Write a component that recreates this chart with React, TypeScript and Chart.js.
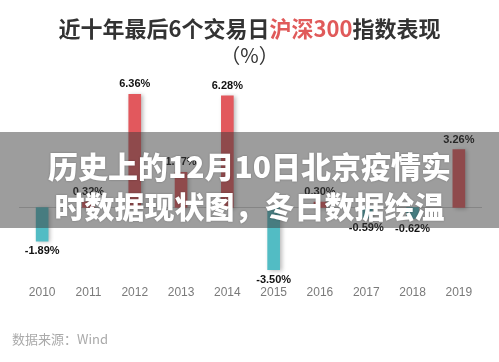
import React, { useEffect, useRef } from "react";
import { Chart, registerables } from "chart.js";

Chart.register(...registerables);

const years = ["2010", "2011", "2012", "2013", "2014", "2015", "2016", "2017", "2018", "2019"];
const returns = [-1.89, 0.32, 6.36, 1.97, 6.28, -3.5, 0.3, -0.59, -0.62, 3.26];
const RED = "#e2585d";
const TEAL = "#52bcc4";

const sans = "'Liberation Sans', Arial, 'Noto Sans CJK SC', sans-serif";
const cjk = "'Noto Sans CJK SC', 'Liberation Sans', sans-serif";

const helpers = {
  id: "helpers",
  beforeDatasetsDraw(chart: any) {
    const { ctx, chartArea, scales } = chart;
    const y0 = Math.round(scales.y.getPixelForValue(0)) + 0.5;
    ctx.save();
    ctx.strokeStyle = "#cfcfcf";
    ctx.lineWidth = 1;
    ctx.beginPath();
    ctx.moveTo(chartArea.left, y0);
    ctx.lineTo(chartArea.right, y0);
    ctx.stroke();
    ctx.restore();
    ctx.save();
    ctx.shadowColor = "rgba(0,0,0,0.28)";
    ctx.shadowBlur = 4;
    ctx.shadowOffsetX = 2;
    ctx.shadowOffsetY = 1;
  },
  afterDatasetsDraw(chart: any) {
    const { ctx } = chart;
    ctx.restore();
    const meta = chart.getDatasetMeta(0);
    ctx.save();
    ctx.font = `bold 11px ${sans}`;
    ctx.fillStyle = "#111";
    ctx.textAlign = "center";
    ctx.textBaseline = "middle";
    meta.data.forEach((bar: any, i: number) => {
      const v = returns[i];
      const label = v.toFixed(2) + "%";
      const ty = v >= 0 ? bar.y - 10 : bar.y + 10;
      ctx.fillText(label, bar.x, ty);
    });
    ctx.restore();
  },
};

export default function App() {
  const ref = useRef<HTMLCanvasElement>(null);
  useEffect(() => {
    if (!ref.current) return;
    const chart = new Chart(ref.current, {
      type: "bar",
      data: {
        labels: years,
        datasets: [
          {
            data: returns,
            backgroundColor: returns.map((v) => (v >= 0 ? RED : TEAL)),
            barThickness: 12,
            borderWidth: 0,
          },
        ],
      },
      plugins: [helpers],
      options: {
        animation: false,
        responsive: false,
        maintainAspectRatio: false,
        layout: { padding: { left: 19, right: 17, top: 83, bottom: 55 } },
        plugins: { legend: { display: false }, tooltip: { enabled: false }, title: { display: false } },
        scales: {
          x: {
            grid: { display: false, drawTicks: false },
            border: { display: false },
            ticks: { color: "#7a7a7a", font: { size: 12, family: sans }, padding: 7 },
          },
          y: { display: false, min: -4, max: 7 },
        },
      },
    });
    return () => chart.destroy();
  }, []);

  return (
    <div style={{ position: "fixed", left: 0, top: 0, width: 499, height: 362, background: "#fff", overflow: "hidden" }}>
      <canvas ref={ref} width={499} height={362} style={{ position: "absolute", left: 0, top: 0 }} />
      <div
        style={{
          position: "absolute",
          left: 0,
          top: 13,
          width: 499,
          textAlign: "center",
          font: `bold 22px ${cjk}`,
          color: "#333",
          lineHeight: "28px",
          whiteSpace: "nowrap",
        }}
      >
        近十年最后6个交易日<span style={{ color: "#e05a5a" }}>沪深300</span>指数表现
      </div>
      <div
        style={{
          position: "absolute",
          left: 0,
          top: 42,
          width: 499,
          textAlign: "center",
          font: `20px ${cjk}`,
          color: "#333",
          lineHeight: "26px",
        }}
      >
        （%）
      </div>
      <div
        style={{
          position: "absolute",
          left: 0,
          top: 132,
          width: 499,
          height: 96,
          background: "rgba(60,60,60,0.5)",
        }}
      />
      <div
        style={{
          position: "absolute",
          left: 0,
          top: 145,
          width: 499,
          textAlign: "center",
          font: `900 30px ${cjk}`,
          color: "#fff",
          lineHeight: "40px",
          whiteSpace: "nowrap",
          textShadow: "0 0 2px rgba(0,0,0,0.3)",
        }}
      >
        <div>历史上的12月10日北京疫情实</div>
        <div>时数据现状图，冬日数据绘温</div>
      </div>
      <div
        style={{
          position: "absolute",
          left: 12,
          top: 330,
          font: `13px ${cjk}`,
          color: "#aaa",
          lineHeight: "18px",
          whiteSpace: "nowrap",
        }}
      >
        数据来源：Wind
      </div>
    </div>
  );
}
